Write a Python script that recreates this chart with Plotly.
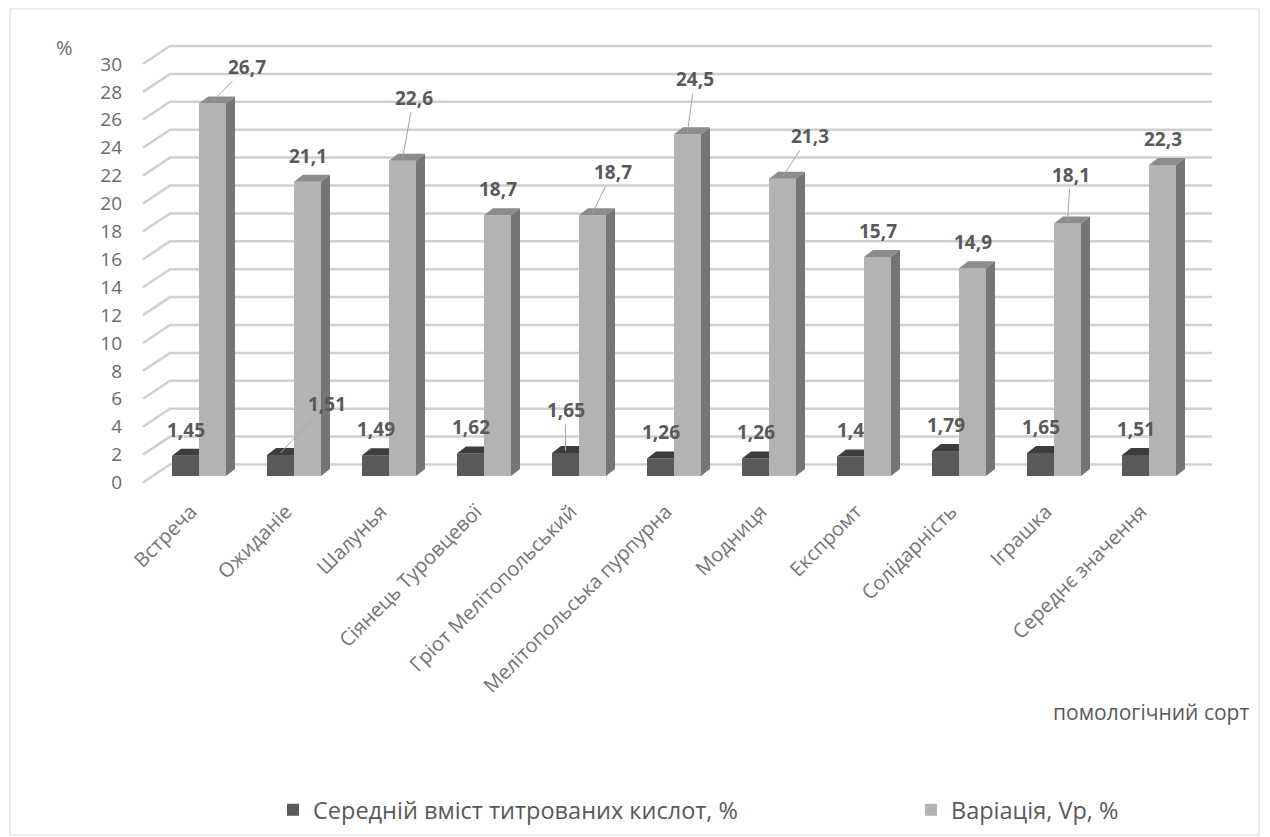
import plotly.graph_objects as go

# ---------------- data ----------------
categories = ["Встреча", "Ожиданіе", "Шалунья", "Сіянець Туровцевої",
              "Гріот Мелітопольський", "Мелітопольська пурпурна", "Модниця",
              "Експромт", "Солідарність", "Іграшка", "Середнє значення"]
acid = [1.45, 1.51, 1.49, 1.62, 1.65, 1.26, 1.26, 1.4, 1.79, 1.65, 1.51]
variation = [26.7, 21.1, 22.6, 18.7, 18.7, 24.5, 21.3, 15.7, 14.9, 18.1, 22.3]
y_tick_values = list(range(0, 31, 2))
series_names = ["Середній вміст титрованих кислот, %", "Варіація, Vp, %"]
y_unit_label = "%"
x_axis_title = "помологічний сорт"

# ---------------- geometry / style ----------------
W, H = 1270, 837
M_L, M_R, M_T, M_B = 128, 40, 30, 342
PLOT_W = W - M_L - M_R
PLOT_H = H - M_T - M_B
CAT_PX = 95.0      # pixels per category
UNIT_PX = 13.95    # pixels per value unit
CAT0_PX = 199.0    # pixel x of first category centre
BASE_PY = 476.0    # pixel y of bar base (front)

def ux(px):
    return px / CAT_PX

def uy(py):
    return py / UNIT_PX

def paper_x(px):
    return (px - M_L) / PLOT_W

def paper_y(py):
    return (H - M_B - py) / PLOT_H

x_range = [(M_L - CAT0_PX) / CAT_PX, (W - M_R - CAT0_PX) / CAT_PX]
y_range = [(BASE_PY - (H - M_B)) / UNIT_PX, (BASE_PY - M_T) / UNIT_PX]

BAR_W = ux(27)
DX, DY = ux(9), uy(7)                 # bar depth
BACK_X0, BACK_X1 = ux(170 - CAT0_PX), ux(1212 - CAT0_PX)
BACK_DV = uy(11.5)
FRONT_X = ux(143 - CAT0_PX)
FRONT_DV = BACK_DV - uy(18)

DARK, DARK_TOP = "#595959", "#3d3d3d"
LIGHT, LIGHT_SIDE, LIGHT_TOP = "#b3b3b3", "#757575", "#8c8c8c"
GRID = "#d0d0d0"
FONT = "Open Sans"

idx = list(range(len(categories)))

fig = go.Figure()

# front faces
fig.add_trace(go.Bar(x=idx, y=acid, width=BAR_W, offset=-BAR_W, name=series_names[0],
                     marker=dict(color=DARK, line=dict(width=0)), hoverinfo="skip",
                     legend="legend"))
fig.add_trace(go.Bar(x=idx, y=variation, width=BAR_W, offset=0, name=series_names[1],
                     marker=dict(color=LIGHT, line=dict(width=0)), hoverinfo="skip",
                     legend="legend2"))

# 3D faces
dtx, dty = [], []
for i, v in zip(idx, acid):
    x0, x1 = i - BAR_W, i
    dtx += [x0, x1, x1, x0 + DX, x0, None]
    dty += [v, v, v + DY, v + DY, v, None]
lsx, lsy, ltx, lty = [], [], [], []
for i, v in zip(idx, variation):
    x0, x1 = i, i + BAR_W
    lsx += [x1, x1 + DX, x1 + DX, x1, x1, None]
    lsy += [0, DY, v + DY, v, 0, None]
    ltx += [x0, x1, x1 + DX, x0 + DX, x0, None]
    lty += [v, v, v + DY, v + DY, v, None]
for xs, ys, col in [(dtx, dty, DARK_TOP), (lsx, lsy, LIGHT_SIDE), (ltx, lty, LIGHT_TOP)]:
    fig.add_trace(go.Scatter(x=xs, y=ys, mode="lines", fill="toself", fillcolor=col,
                             line=dict(width=0, color=col), showlegend=False, hoverinfo="skip"))

# back wall gridlines with floor diagonals
shapes = []
for k in y_tick_values:
    shapes.append(dict(type="path", xref="x", yref="y", layer="below",
                       path=f"M{FRONT_X},{k + FRONT_DV} L{BACK_X0},{k + BACK_DV} L{BACK_X1},{k + BACK_DV}",
                       line=dict(color=GRID, width=2.5)))
# outer chart border
shapes.append(dict(type="rect", xref="paper", yref="paper", layer="below",
                   x0=paper_x(10), x1=paper_x(1259), y0=paper_y(835), y1=paper_y(9),
                   line=dict(color="#d9d9d9", width=1)))

# data labels
LEADERS = {
    (1, 0): (34, -35), (1, 2): (11, -61), (1, 4): (20, -41), (1, 5): (7, -53),
    (1, 6): (27, -41), (1, 9): (3, -47), (0, 1): (46, -49), (0, 4): (0, -41),
}
annotations = []
for s, vals in enumerate([acid, variation]):
    for i, v in zip(idx, vals):
        xc = i - BAR_W / 2 if s == 0 else i + BAR_W / 2
        txt = f"{v:g}".replace(".", ",")
        font = dict(family=FONT, size=19, color="#595959")
        if (s, i) in LEADERS:
            ax, ay = LEADERS[(s, i)]
            annotations.append(dict(x=xc, y=v + uy(2), xref="x", yref="y", text=f"<b>{txt}</b>",
                                    showarrow=True, arrowhead=0, arrowwidth=1, arrowcolor="#a6a6a6",
                                    ax=ax, ay=ay, standoff=0, font=font))
        else:
            annotations.append(dict(x=xc, y=v, xref="x", yref="y", text=f"<b>{txt}</b>",
                                    showarrow=False, yshift=26, font=font))

annotations.append(dict(x=paper_x(64), y=paper_y(48), xref="paper", yref="paper", text=y_unit_label,
                        xanchor="center", yanchor="middle", showarrow=False,
                        font=dict(family=FONT, size=20, color="#6b6b6b")))
annotations.append(dict(x=paper_x(1151), y=paper_y(712), xref="paper", yref="paper", text=x_axis_title,
                        xanchor="center", yanchor="middle", showarrow=False,
                        font=dict(family=FONT, size=21, color="#595959")))

legend_style = dict(orientation="h", xref="container", yref="container", y=1 - 810 / H,
                    xanchor="left", yanchor="middle", itemwidth=30,
                    font=dict(family=FONT, size=23.5, color="#595959"), bgcolor="rgba(0,0,0,0)")

fig.update_layout(
    width=W, height=H, margin=dict(l=M_L, r=M_R, t=M_T, b=M_B),
    paper_bgcolor="white", plot_bgcolor="white", barmode="overlay",
    font=dict(family=FONT),
    shapes=shapes, annotations=annotations, hovermode=False,
    xaxis=dict(range=x_range, tickmode="array", tickvals=idx, ticktext=categories, tickangle=-45,
               showgrid=False, zeroline=False, showline=False, ticks="", ticklabelshift=-8,
               tickfont=dict(family=FONT, size=20, color="#757575"), fixedrange=True),
    yaxis=dict(range=y_range, tickmode="array", tickvals=[k + FRONT_DV for k in y_tick_values],
               ticktext=[str(k) for k in y_tick_values], showgrid=False, zeroline=False,
               showline=False, ticks="", ticklabelstandoff=5,
               tickfont=dict(family=FONT, size=19, color="#6b6b6b"), fixedrange=True),
    legend=dict(x=273 / W, **legend_style),
    legend2=dict(x=911 / W, **legend_style),
)

fig.write_html("out.html")
